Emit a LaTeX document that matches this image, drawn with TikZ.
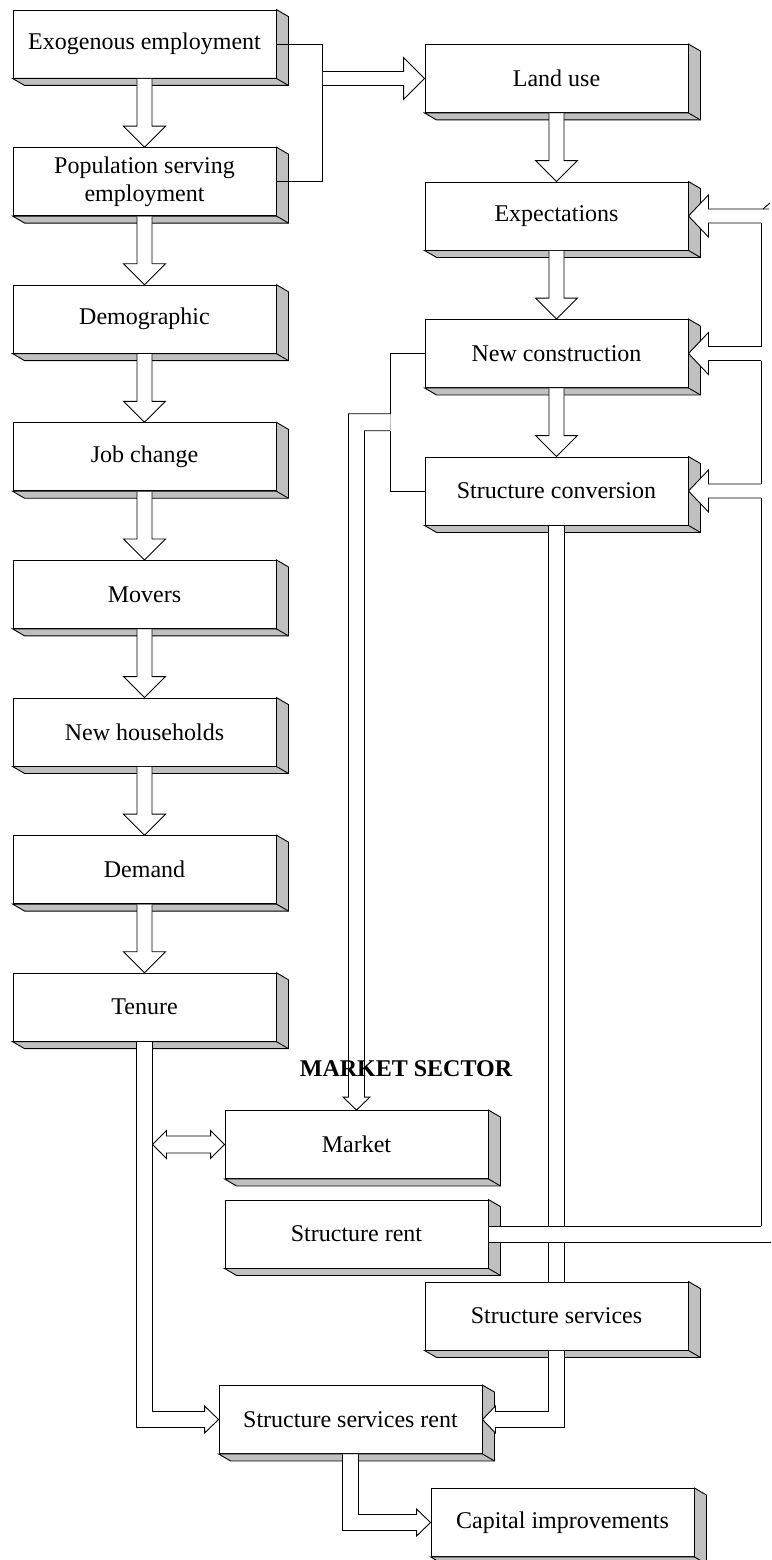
\documentclass[tikz,border=0pt]{standalone}
\usepackage{fontspec}
\setmainfont{Liberation Serif}
\usetikzlibrary{calc}
\definecolor{shadegray}{HTML}{C0C0C0}
\tikzset{
  stagebox/.style={draw=black, fill=white, line width=0.9pt, minimum width=263pt,
    minimum height=68pt, inner sep=0pt, align=center, font=\fontsize{24}{28}\selectfont},
  depth/.style={draw=black, fill=shadegray, line width=0.9pt, line join=miter},
  pipe/.style={draw=black, fill=white, line width=0.9pt, line join=miter},
  plain/.style={draw=black, line width=0.9pt},
}
% bevelled depth on the right and bottom of a box
\newcommand\depthof[1]{%
  \draw[depth] (#1.north east) -- ++(12pt,-7pt) -- ($(#1.south east)+(12pt,-7pt)$)
    -- ($(#1.south west)+(12pt,-7pt)$) -- (#1.south west) -- (#1.south east) -- cycle;
  \draw[plain] (#1.south east) -- ++(12pt,-7pt);}
% wide hollow arrow straight down from one box to the next
\newcommand\flowdown[2]{%
  \filldraw[pipe] let \p1=(#1.south), \p2=(#2.north) in
    (\x1-7.5pt,\y1-0.5pt) -- (\x1-7.5pt,\y2+21pt) -- (\x1-21pt,\y2+21pt) -- (\x1,\y2)
    -- (\x1+21pt,\y2+21pt) -- (\x1+7.5pt,\y2+21pt) -- (\x1+7.5pt,\y1-0.5pt);}
% wide hollow arrow entering a box from the right; #2/#3 = tail x of upper/lower edge
\newcommand\flowleft[3]{%
  \filldraw[pipe] let \p1=(#1.east) in
    (#2,\y1+7pt) -- (\x1+20pt,\y1+7pt) -- (\x1+20pt,\y1+21pt) -- (\p1)
    -- (\x1+20pt,\y1-21pt) -- (\x1+20pt,\y1-7pt) -- (#3,\y1-7pt);}

\begin{document}
\begin{tikzpicture}[x=1pt,y=-1pt]
\fill[white] (0,0) rectangle (771,1560);
\useasboundingbox (0,0) rectangle (771,1560);

% household chain
\node[stagebox] (exo) at (144.5,44)    {Exogenous employment};
\node[stagebox] (pop) at (144.5,181.6) {Population serving\\employment};
\node[stagebox] (dem) at (144.5,319.2) {Demographic};
\node[stagebox] (job) at (144.5,456.8) {Job change};
\node[stagebox] (mov) at (144.5,594.4) {Movers};
\node[stagebox] (nhh) at (144.5,732)   {New households};
\node[stagebox] (dmd) at (144.5,869.6) {Demand};
\node[stagebox] (ten) at (144.5,1007.2){Tenure};
% supply chain
\node[stagebox] (lu)  at (556.5,78.5)  {Land use};
\node[stagebox] (exp) at (556.5,216)   {Expectations};
\node[stagebox] (nc)  at (556.5,353.5) {New construction};
\node[stagebox] (sc)  at (556.5,491)   {Structure conversion};
% market sector
\node[stagebox] (mkt) at (356.5,1144.5){Market};
\node[stagebox] (sr)  at (356.5,1234)  {Structure rent};
\node[stagebox] (ss)  at (556.5,1316)  {Structure services};
\node[stagebox] (ssr) at (350.5,1419.5){Structure services rent};
\node[stagebox] (ci)  at (562.5,1522.5){Capital improvements};

\foreach \b in {exo,pop,dem,job,mov,nhh,dmd,ten,lu,exp,nc,sc,mkt,sr,ss,ssr,ci}
  {\depthof{\b}}

% vertical flows
\flowdown{exo}{pop}
\flowdown{pop}{dem}
\flowdown{dem}{job}
\flowdown{job}{mov}
\flowdown{mov}{nhh}
\flowdown{nhh}{dmd}
\flowdown{dmd}{ten}
\flowdown{lu}{exp}
\flowdown{exp}{nc}
\flowdown{nc}{sc}

% employment feeds land use
\draw[plain] (exo.east) -- ++(46pt,0) coordinate (junc) |- (pop.east);
\filldraw[pipe] let \p1=(junc), \p2=(lu.west) in
  (\x1+0.5pt,\y2+7pt) -- (\x2-21pt,\y2+7pt) -- (\x2-21pt,\y2+21pt) -- (\p2)
  -- (\x2-21pt,\y2-21pt) -- (\x2-21pt,\y2-7pt) -- (\x1+0.5pt,\y2-7pt);

% construction and conversion feed the market
\draw[plain] (nc.west) -- ++(-34pt,0) coordinate (split) |- (sc.west);
\filldraw[pipe] let \p1=(split), \p2=(sc.west), \p3=(mkt.north), \n1={(\y1+\y2)/2} in
  (\x1,\n1+8.5pt) -- (\x3-8pt,\n1+8.5pt) -- (\x3-8pt,\y3+13pt) -- (\x3-13.5pt,\y3+13pt)
  -- (\p3) -- (\x3+13.5pt,\y3+13pt) -- (\x3+8pt,\y3+13pt) -- (\x3+8pt,\n1-8.5pt) -- (\x1,\n1-8.5pt);
\draw[black!25, line width=0.9pt] let \p1=(split), \p2=(sc.west), \n1={(\y1+\y2)/2} in
  (\x1,\n1+8.5pt) -- (\x1,\n1-8.5pt);

% conversion to structure services
\fill[white] let \p1=(sc.south), \p2=(ss.north) in (\x1-8pt,\y1-0.5pt) rectangle (\x1+8pt,\y2+0.5pt);
\draw[plain] let \p1=(sc.south), \p2=(ss.north) in
  (\x1-8pt,\y1-0.5pt) -- (\x1-8pt,\y2) (\x1+8pt,\y1-0.5pt) -- (\x1+8pt,\y2);

% structure rent feedback to expectations, construction and conversion
\fill[white] let \p1=(sr.east) in (\x1+0.5pt,\y1+8pt) rectangle (771pt,\y1-8pt);
\draw[plain] let \p1=(sr.east) in
  (\x1+0.5pt,\y1+8pt) -- (761pt,\y1+8pt) (\x1+0.5pt,\y1-8pt) -- (771pt,\y1-8pt);
\draw[plain] let \p1=(exp.east), \p2=(nc.east) in (761pt,\y1-7pt) -- (761pt,\y2+7pt);
\draw[plain] let \p1=(nc.east), \p2=(sc.east) in (761pt,\y1-7pt) -- (761pt,\y2+7pt);
\draw[plain] let \p1=(sc.east), \p2=(sr.east) in (761pt,\y1-7pt) -- (761pt,\y2+8pt);
\flowleft{exp}{769pt}{761pt}
\flowleft{nc}{761pt}{761pt}
\flowleft{sc}{761pt}{761pt}
\draw[plain] let \p1=(exp.east) in (763pt,\y1+7pt) -- (770pt,\y1+13pt);

% tenure to structure services rent, and to the market
\filldraw[pipe] let \p1=(ten.south), \p2=(ssr.west) in
  (\x1-8pt,\y1-0.5pt) -- (\x1-8pt,\y2-8pt) -- (\x2-14pt,\y2-8pt) -- (\x2-14pt,\y2-13.5pt)
  -- (\p2) -- (\x2-14pt,\y2+13.5pt) -- (\x2-14pt,\y2+8pt) -- (\x1+8pt,\y2+8pt) -- (\x1+8pt,\y1-0.5pt);
\filldraw[pipe] let \p1=(ten.south), \p2=(mkt.west) in
  (\x1+8pt,\y2) -- (\x1+22pt,\y2+14pt) -- (\x1+22pt,\y2+8.5pt) -- (\x2-14pt,\y2+8.5pt)
  -- (\x2-14pt,\y2+14pt) -- (\p2) -- (\x2-14pt,\y2-14pt) -- (\x2-14pt,\y2-8.5pt)
  -- (\x1+22pt,\y2-8.5pt) -- (\x1+22pt,\y2-14pt) -- cycle;

% structure services to structure services rent
\filldraw[pipe] let \p1=(ss.south), \p2=(ssr.east) in
  (\x1-8pt,\y1-0.5pt) -- (\x1-8pt,\y2+8pt) -- (\x2+13pt,\y2+8pt) -- (\x2+13pt,\y2+13.5pt)
  -- (\p2) -- (\x2+13pt,\y2-13.5pt) -- (\x2+13pt,\y2-8pt) -- (\x1+8pt,\y2-8pt) -- (\x1+8pt,\y1-0.5pt);

% structure services rent to capital improvements
\filldraw[pipe] let \p1=(ssr.south), \p2=(ci.west) in
  (\x1-8pt,\y1-0.5pt) -- (\x1-8pt,\y2-8pt) -- (\x2-14pt,\y2-8pt) -- (\x2-14pt,\y2-13.5pt)
  -- (\p2) -- (\x2-14pt,\y2+13.5pt) -- (\x2-14pt,\y2+8pt) -- (\x1+8pt,\y2+8pt) -- (\x1+8pt,\y1-0.5pt);

\node[font=\bfseries\fontsize{24}{28}\selectfont, anchor=base] (sector) at (406,1076) {MARKET SECTOR};
\end{tikzpicture}
\end{document}
